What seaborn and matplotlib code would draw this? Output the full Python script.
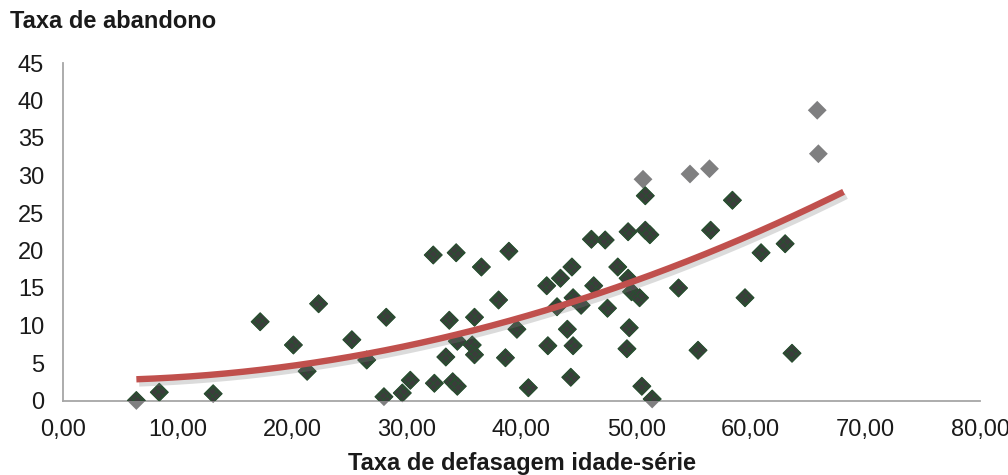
import numpy as np
import pandas as pd
import matplotlib
matplotlib.use("Agg")
import matplotlib.pyplot as plt
import matplotlib.patheffects as pe
import seaborn as sns

# Municípios: taxa de defasagem idade-série (%) x taxa de abandono (%)
defasagem = [6.4, 8.4, 13.1, 17.2, 20.1, 21.3, 22.3, 25.2, 26.5, 28.2,
             28.0, 29.6, 30.3, 32.3, 32.4, 33.4, 33.7, 34.0, 34.4, 34.3,
             34.4, 35.7, 35.9, 35.9, 36.5, 38.0, 38.6, 38.9, 39.6, 40.6,
             42.3, 42.2, 43.1, 43.4, 44.4, 44.0, 44.5, 44.5, 44.3, 45.2,
             46.1, 46.3, 47.3, 47.5, 48.4, 49.3, 49.3, 49.4, 49.2, 49.6,
             50.3, 50.5, 50.8, 50.8, 51.2, 51.4, 53.7, 55.4, 56.5, 58.4,
             59.5, 60.9, 63.0, 63.6]
abandono = [0.0, 1.1, 0.9, 10.5, 7.4, 3.9, 12.9, 8.1, 5.4, 11.1,
            0.5, 1.0, 2.7, 19.4, 2.3, 5.8, 10.7, 2.5, 1.9, 19.7,
            7.9, 7.4, 6.1, 11.1, 17.8, 13.4, 5.7, 19.9, 9.5, 1.7,
            7.3, 15.3, 12.5, 16.3, 17.8, 9.5, 13.7, 7.3, 3.1, 12.7,
            21.5, 15.3, 21.4, 12.3, 17.8, 16.3, 22.5, 9.7, 6.9, 14.5,
            13.7, 1.9, 27.3, 22.7, 22.1, 0.2, 15.0, 6.7, 22.7, 26.7,
            13.7, 19.7, 20.9, 6.3]

# Municípios com as maiores taxas de abandono
defasagem_alto = [50.6, 54.7, 56.4, 65.8, 65.9]
abandono_alto = [29.5, 30.2, 30.9, 38.7, 32.9]

x_ticks = [0, 10, 20, 30, 40, 50, 60, 70, 80]
y_ticks = [0, 5, 10, 15, 20, 25, 30, 35, 40, 45]

sns.set_theme(style="white")
plt.rcParams["font.family"] = ["Liberation Sans", "DejaVu Sans"]
plt.rcParams["hatch.linewidth"] = 0.7

fig = plt.figure(figsize=(10.08, 4.75), dpi=100)
ax = fig.add_axes([63 / 1008, 1 - 400.5 / 475, (980 - 63) / 1008, (400.5 - 63) / 475])

todos = pd.DataFrame({
    "defasagem": defasagem + defasagem_alto,
    "abandono": abandono + abandono_alto,
})
base = pd.DataFrame({"defasagem": defasagem, "abandono": abandono})

# Camada cinza (sem recorte) e camada escura texturizada por cima
sns.scatterplot(data=todos, x="defasagem", y="abandono", marker="D", s=92,
                color="#7f7f80", edgecolor="none", linewidth=0, ax=ax,
                clip_on=False, zorder=3)
sns.scatterplot(data=base, x="defasagem", y="abandono", marker="D", s=82,
                color="#3c3c3c", edgecolor="#27502f", linewidth=0.8, hatch="xxxx",
                ax=ax, zorder=4)

# Linha de tendência polinomial (2ª ordem)
coef = np.polyfit(todos["defasagem"], todos["abandono"], 2)
xs = np.linspace(todos["defasagem"].min(), todos["defasagem"].max() + 2.2, 200)
ax.plot(xs, np.polyval(coef, xs), color="#c0504d", lw=4.6, solid_capstyle="butt",
        zorder=5,
        path_effects=[pe.SimpleLineShadow(offset=(2, -3), shadow_color="#808080", alpha=0.28),
                      pe.Normal()])

ax.set_xlim(0, 80)
ax.set_ylim(0, 45)
ax.set_xticks(x_ticks)
ax.set_yticks(y_ticks)
ax.set_xticklabels([f"{v:.2f}".replace(".", ",") for v in x_ticks])
ax.set_yticklabels([str(v) for v in y_ticks])

for side in ["top", "right"]:
    ax.spines[side].set_visible(False)
for side in ["left", "bottom"]:
    ax.spines[side].set_color("#a6a6a6")
    ax.spines[side].set_linewidth(1.3)

ax.tick_params(axis="both", which="major", direction="out", length=4.5, width=1.2,
               color="#a6a6a6", labelsize=17, labelcolor="#1a1a1a")
ax.tick_params(axis="y", pad=9)
ax.tick_params(axis="x", pad=9)
ax.grid(False)

ax.set_xlabel("Taxa de defasagem idade-série", fontsize=17, fontweight="bold",
              color="#1a1a1a", labelpad=8)
ax.set_ylabel("")
fig.text(10 / 1008, 1 - 22 / 475, "Taxa de abandono", fontsize=17, fontweight="bold",
         color="#1a1a1a", ha="left", va="center")

fig.savefig("out.png", dpi=100, facecolor="white")
